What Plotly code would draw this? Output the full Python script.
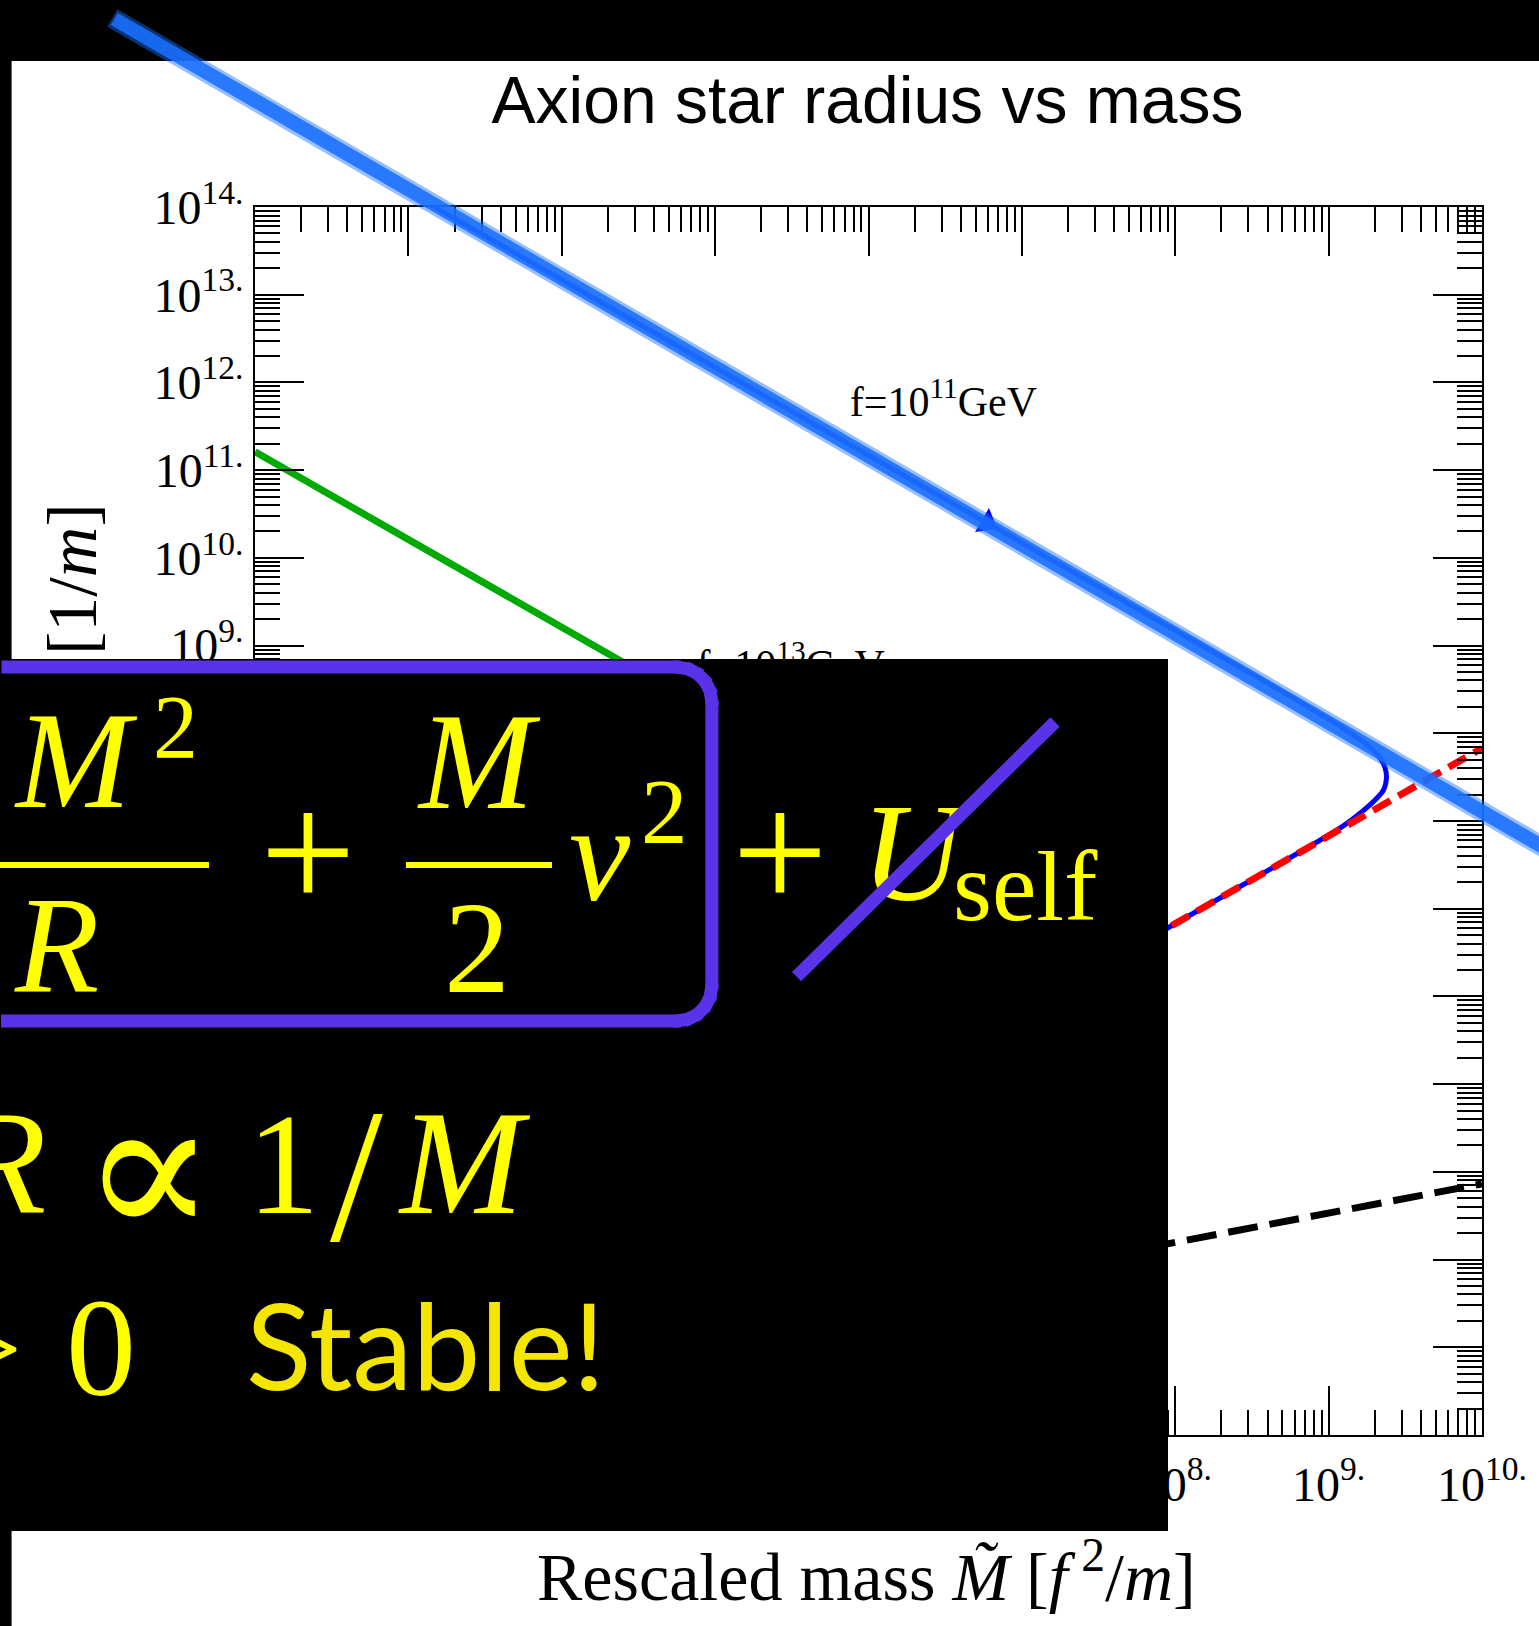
import math
import plotly.graph_objects as go

# ---------------- data: rescaled mass M~ [f^2/m] and radius R~ [1/m] ----------------
# f = 10^11 GeV: dilute branch, turning point at maximum mass, then the dense branch
blue_mass = [6.31e2, 1.0e4, 1.0e6, 1.0e8, 6.31e8, 1.26e9, 1.78e9, 2.14e9, 2.34e9,
             2.38e9, 2.29e9, 2.04e9, 1.66e9, 1.26e9, 3.16e8, 3.16e7, 3.16e6]
blue_radius = [2.34e14, 1.48e13, 1.48e11, 1.48e9, 2.34e8, 1.12e8, 7.41e7, 5.37e7, 3.98e7,
               3.02e7, 2.29e7, 1.78e7, 1.29e7, 8.91e6, 2.14e6, 2.14e5, 2.14e4]
# f = 10^13 GeV dilute branch
green_mass = [1.0e2, 2.5e4, 3.0e6]
green_radius = [1.62e11, 6.49e8, 5.4e6]
# dense-branch asymptote (red dashed) and R ~ M^(1/3) reference (black dashed)
red_mass = [3.16e6, 1.0e10]
red_radius = [2.14e4, 6.76e7]
black_mass = [1.0e7, 1.0e10]
black_radius = [73.0, 730.0]
# direction marker on the f = 10^11 GeV curve
arrow_mass = [5.94e6]
arrow_radius = [2.49e10]
# curve labels
label_mass = [3.08e6, 3.11e5]
label_radius = [5.53e11, 5.55e8]
label_text = ["f=10<sup>11</sup>GeV", "f=10<sup>13</sup>GeV"]

# axis ticks (Mathematica-style labels "10^k.")
x_tick_vals = [10.0 ** k for k in range(2, 11)]
x_tick_text = [f"10<sup>{k}.</sup>" for k in range(2, 11)]
y_tick_vals = [10.0 ** k for k in range(0, 15)]
y_tick_text = [f"10<sup>{k}.</sup>" for k in range(0, 15)]
x_minor = [m * 10.0 ** k for k in range(2, 10) for m in range(2, 10)]
y_minor = [m * 10.0 ** k for k in range(0, 14) for m in range(2, 10)]

# ---------------- page geometry (pixels) ----------------
W, H = 1539, 1626
L, R, T, B = 255, 1485, 207, 1435     # plot-area box


def px(x):
    return (x - L) / (R - L)


def py(y):
    return (B - y) / (B - T)


YELLOW = "#FFFF00"
PURPLE = "#5A32E8"
CHALK_BLUE = "rgb(26,112,255)"
SERIF = "Liberation Serif"

fig = go.Figure()

fig.add_trace(go.Scatter(x=green_mass, y=green_radius, mode="lines",
                         line=dict(color="#00AA00", width=7), hoverinfo="skip"))
fig.add_trace(go.Scatter(x=blue_mass, y=blue_radius, mode="lines",
                         line=dict(color="#0000FF", width=5, shape="spline"), hoverinfo="skip"))
fig.add_trace(go.Scatter(x=red_mass, y=red_radius, mode="lines",
                         line=dict(color="#FF0000", width=7, dash="20px,9px"), hoverinfo="skip"))
fig.add_trace(go.Scatter(x=black_mass, y=black_radius, mode="lines",
                         line=dict(color="#000000", width=7, dash="30px,12px"), hoverinfo="skip"))
fig.add_trace(go.Scatter(x=arrow_mass, y=arrow_radius, mode="markers",
                         marker=dict(symbol="triangle-right", angle=30, size=24, color="#0000FF"),
                         hoverinfo="skip"))
fig.add_trace(go.Scatter(x=label_mass, y=label_radius, mode="text", text=label_text,
                         textposition="middle center",
                         textfont=dict(family=SERIF, size=42, color="black"), hoverinfo="skip"))

axis_common = dict(
    type="log", showline=True, linecolor="black", linewidth=2, mirror="allticks",
    ticks="inside", ticklen=49, tickwidth=2, tickcolor="black",
    tickfont=dict(family=SERIF, size=48, color="black"),
    showgrid=False, zeroline=False, tickmode="array",
)
fig.update_xaxes(range=[2, 10], tickvals=x_tick_vals, ticktext=x_tick_text,
                 ticklabelstandoff=6,
                 minor=dict(tickmode="array", tickvals=x_minor, ticks="inside", ticklen=25,
                            tickwidth=2, tickcolor="black", showgrid=False),
                 **axis_common)
fig.update_yaxes(range=[0, 14], tickvals=y_tick_vals, ticktext=y_tick_text,
                 ticklabelstandoff=0,
                 minor=dict(tickmode="array", tickvals=y_minor, ticks="inside", ticklen=25,
                            tickwidth=2, tickcolor="black", showgrid=False),
                 **axis_common)

shapes = [
    # white slide area over the black page
    dict(type="rect", xref="paper", yref="paper", layer="below",
         x0=px(11), x1=px(W + 10), y0=py(61), y1=py(H + 10),
         fillcolor="white", line=dict(width=0)),
    # chalk highlight along the f = 10^11 GeV dilute branch
    dict(type="line", xref="paper", yref="paper", layer="above",
         x0=px(112), y0=py(18), x1=px(1560), y1=py(18 + 0.578 * 1448),
         line=dict(color=CHALK_BLUE, width=20), opacity=0.45),
    dict(type="line", xref="paper", yref="paper", layer="above",
         x0=px(114), y0=py(19), x1=px(1560), y1=py(18 + 0.578 * 1448),
         line=dict(color=CHALK_BLUE, width=14), opacity=0.88),
]


def glyph(text, x, baseline, size, family=SERIF, anchor="center", desc=0.216, color=YELLOW):
    """Text placed by its baseline (desc = font descent in em)."""
    return dict(text=text, x=px(x), y=py(baseline + desc * size), xref="paper", yref="paper",
                xanchor=anchor, yanchor="bottom", showarrow=False, borderpad=0, borderwidth=0,
                font=dict(family=family, size=size, color=color))


def block(x0, y0, x1, y1, fill):
    """Solid panel / bar drawn in the annotation layer."""
    return dict(text=" ", x=px(x0), y=py(y0), xref="paper", yref="paper",
                xanchor="left", yanchor="top", showarrow=False, borderpad=0, borderwidth=0,
                width=x1 - x0, height=y1 - y0, bgcolor=fill, font=dict(size=4, color="black"))


def stroke(points, color, width, overlap=4.0):
    """Chalk stroke through pixel points, one headless arrow per segment.
    Segments are lengthened slightly so consecutive pieces overlap at the joints."""
    segs = []
    for (x0, y0), (x1, y1) in zip(points[:-1], points[1:]):
        d = math.hypot(x1 - x0, y1 - y0) or 1.0
        ux, uy = (x1 - x0) / d, (y1 - y0) / d
        sx, sy = x0 - ux * overlap, y0 - uy * overlap
        ex, ey = x1 + ux * overlap, y1 + uy * overlap
        segs.append(dict(text="", x=px(ex), y=py(ey), xref="paper", yref="paper",
                         ax=sx - ex, ay=sy - ey, showarrow=True, arrowhead=0,
                         arrowwidth=width, arrowcolor=color, standoff=0, startstandoff=0))
    return segs


def arc(cx, cy, r, a0, a1, n=5):
    return [(cx + r * math.cos(math.radians(a0 + (a1 - a0) * i / n)),
             cy + r * math.sin(math.radians(a0 + (a1 - a0) * i / n))) for i in range(n + 1)]


# rounded chalk box around the gravity + kinetic terms (open to the left edge)
box_pts = ([(-30, 667)] + arc(678, 702, 35, -90, 0) + arc(678, 986, 35, 0, 90) + [(-30, 1021)])

annotations = [
    # axis titles
    dict(text="Rescaled radius <i>R̃</i> [1/<i>m</i>]", x=px(72), y=py(503), xref="paper",
         yref="paper", xanchor="center", yanchor="top", textangle=-90, showarrow=False,
         borderpad=0, borderwidth=0, font=dict(family=SERIF, size=70, color="black")),
    glyph("Rescaled mass <i>M̃</i> [<i>f</i>&#8201;<sup>2</sup>/<i>m</i>]", 868, 1600, 68,
          color="black"),
    # black panel holding the energy argument
    block(-10, 659, 1167, 1531, "black"),
]
annotations += stroke(box_pts, PURPLE, 13)
annotations += [
    # fraction bars
    block(-10, 862, 208, 868, YELLOW),
    block(406, 862, 552, 868, YELLOW),
    # energy: ... M^2/R + M/2 v^2 + U_self
    glyph("<i>M</i>", 76, 807, 138),
    glyph("2", 175, 758, 90),
    glyph("<i>R</i>", 56, 992, 138),
    glyph("+", 308, 909, 170),
    glyph("<i>M</i>", 480, 808, 138),
    glyph("2", 478, 992, 132),
    glyph("<i>v</i>", 601, 900, 138),
    glyph("2", 666, 843, 93),
    glyph("+", 781, 909, 170),
    glyph("<i>U</i>", 917, 900, 140),
    glyph("self", 955, 920, 100, anchor="left"),
]
# purple chalk strike-through of U_self
annotations += stroke([(797, 978), (1057, 722)], PURPLE, 13, overlap=0.0)
annotations += [
    # R ∝ 1/M
    glyph("<i>R</i>", 0, 1213, 148),
    glyph("∝", 148, 1238, 200, family="DejaVu Serif", desc=0.236),
    glyph("1", 284, 1213, 145),
    glyph("/", 357, 1240, 190),
    glyph("<i>M</i>", 465, 1213, 148),
    # ... > 0  Stable!
    glyph("&gt;", 22, 1396, 140, anchor="right"),
    glyph("0", 101, 1395, 140),
    glyph("Stable!", 246, 1390, 121, family="Lato", anchor="left", desc=0.213, color="#F4E600"),
]

fig.update_layout(
    width=W, height=H,
    margin=dict(l=L, r=W - R, t=T, b=H - B, pad=0),
    paper_bgcolor="black", plot_bgcolor="white",
    showlegend=False,
    title=dict(text="Axion star radius vs mass", xref="paper", x=px(869), xanchor="center",
               yref="container", y=1 - 100 / H, yanchor="middle",
               font=dict(family="Liberation Sans", size=66, color="black")),
    shapes=shapes,
    annotations=annotations,
)

fig.write_html("out.html")
